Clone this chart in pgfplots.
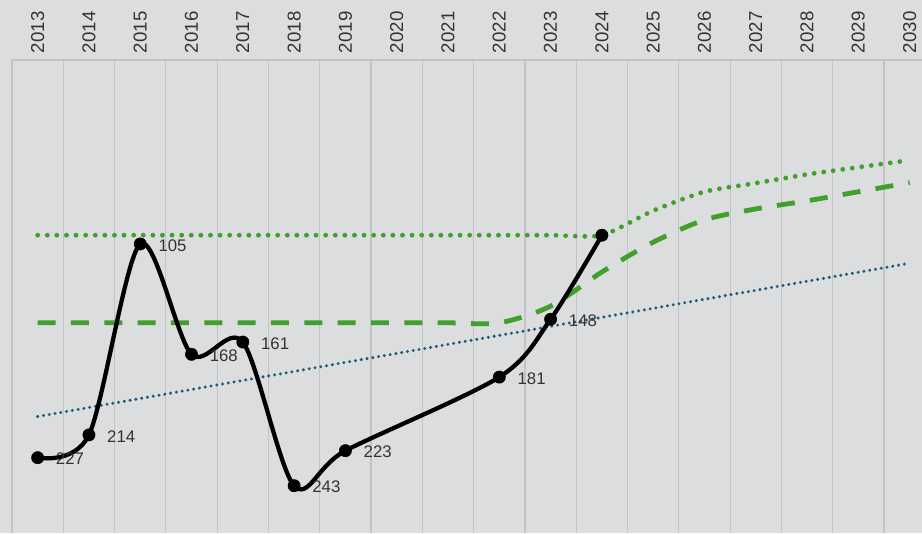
\documentclass[border=0pt]{standalone}
\usepackage{pgfplots}
\pgfplotsset{compat=1.18}
\usepackage{fontspec}
\setmainfont{Liberation Sans}
\definecolor{bgc}{HTML}{DCDDDF}
\definecolor{gridc}{HTML}{C2C3C5}
\definecolor{grn}{HTML}{40A02B}
\definecolor{trendc}{HTML}{1D5B79}
\definecolor{labc}{HTML}{333333}
\begin{document}
\begin{tikzpicture}
\fill[bgc] (0,0) rectangle (691.5pt,399.75pt);
\begin{axis}[
  at={(0,0)}, anchor=south west,
  scale only axis, width=691.5pt, height=354.75pt,
  xmin=2012.266, xmax=2030.24, ymin=0, ymax=270, y dir=reverse,
  axis line style={draw=none},
  ytick=\empty,
  xtick={2013,2014,...,2030},
  xticklabel pos=upper,
  major tick length=0pt,
  /pgf/number format/1000 sep={},
  /pgf/number format/assume math mode=true,
  xticklabel style={rotate=90, anchor=west, inner xsep=5pt, inner ysep=0pt,
    font=\fontsize{14}{16}\selectfont, text=labc},
  extra x ticks={2012.5,2013.5,...,2029.5},
  extra x tick labels={},
  extra x tick style={grid=major, major grid style={gridc, line width=0.9pt}},
  clip=false,
]
\draw[gridc, line width=0.9pt] (axis cs:2012.5,0) -- (axis cs:2030.24,0);
% trend line
\addplot[trendc, line width=2.5pt, line cap=round, dash pattern=on 0pt off 4.4pt]
  coordinates {(2013,203.5) (2030,116)};
% dashed green
\addplot[grn, line width=3.6pt, smooth, dash pattern=on 13.5pt off 11.5pt]
  coordinates {(2013,150) (2014,150) (2015,150) (2016,150) (2017,150) (2018,150)
  (2019,150) (2020,150) (2021,150) (2022,150) (2023,140.5) (2024,121) (2025,104)
  (2026,91.3) (2027,85) (2028,80.4) (2029,75.2) (2030,70)};
% black actual
\addplot[black, line width=3.2pt, smooth, mark=*, mark size=4.6pt,
  mark options={line width=0.4pt},
  nodes near coords, point meta=explicit symbolic,
  nodes near coords style={anchor=west, inner sep=0pt, xshift=13.5pt, yshift=-1pt,
    font=\fontsize{12.6}{14}\selectfont, text=labc}]
  coordinates {(2013,227)[227] (2014,214)[214] (2015,105)[105] (2016,168)[168]
  (2017,161)[161] (2018,243)[243] (2019,223)[223] (2022,181)[181] (2023,148)[148]
  (2024,100)[]};
% dotted green
\addplot[grn, line width=3.6pt, smooth, tension=0.4, line cap=round, dash pattern=on 0pt off 7.2pt]
  coordinates {(2013,100) (2014,100) (2015,100) (2016,100) (2017,100) (2018,100)
  (2019,100) (2020,100) (2021,100) (2022,100) (2023,100) (2024,100) (2025,86)
  (2026,75.2) (2027,70.3) (2028,65.3) (2029,61.2) (2029.85,57.8)};
\end{axis}
\pgfresetboundingbox
\useasboundingbox (0,0) rectangle (691.5pt,399.75pt);
\end{tikzpicture}
\end{document}
